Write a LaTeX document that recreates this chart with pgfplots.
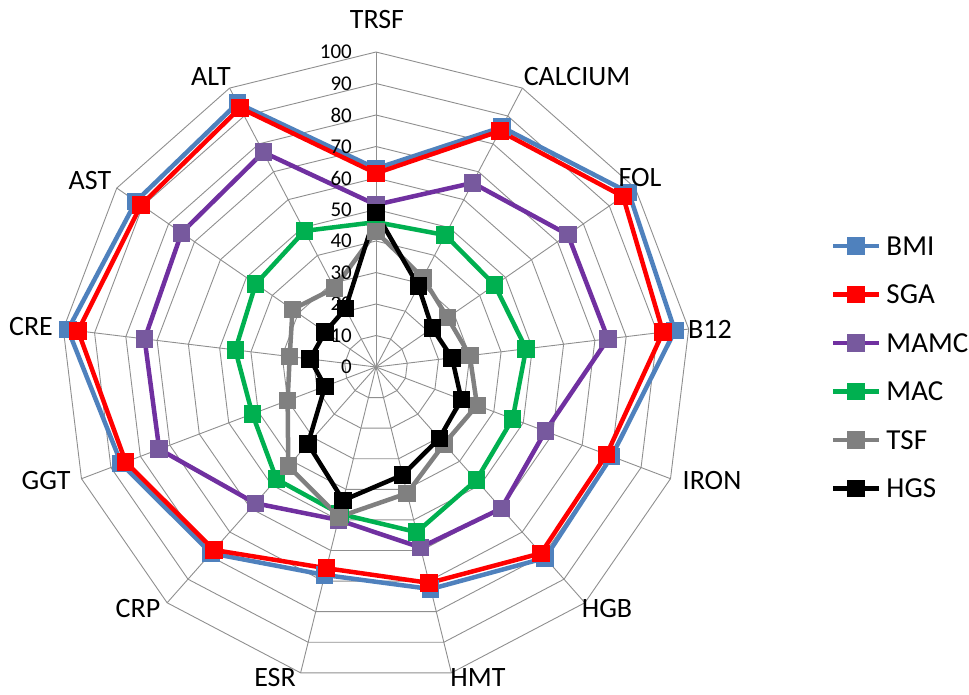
\documentclass[border=0pt]{standalone}
\usepackage{fontspec}
\setmainfont{Carlito}
\usepackage{pgfplots}
\pgfplotsset{compat=1.18}
\usepackage{pgfplotstable}
\usepgfplotslibrary{polar}

\definecolor{bmiblue}{HTML}{4F81BD}
\definecolor{sgared}{HTML}{FF0000}
\definecolor{mamcline}{HTML}{7030A0}
\definecolor{mamcmark}{HTML}{77599E}
\definecolor{macgreen}{HTML}{00B050}
\definecolor{tsfgray}{HTML}{808080}
\definecolor{webgray}{HTML}{8F8F8F}

% one spoke per parameter, clockwise from the top; last row closes the polygon
\pgfplotstableread{
cat      ang        BMI   SGA   MAMC  MAC   TSF   HGS
TRSF     90         63.0  61.5  51.5  46.0  43.0  49.0
CALCIUM  62.3077    86.0  84.6  66.0  47.3  32.0  29.0
FOL      34.6154    97.5  95.3  74.0  45.8  27.6  21.7
B12      6.9231     95.6  91.8  74.2  48.0  30.0  24.3
IRON     -20.7692   80.0  78.3  57.5  46.4  34.3  29.0
HGB      -48.4615   81.0  79.0  60.0  48.0  32.6  30.3
HMT      -76.1538   72.6  70.6  59.0  54.0  41.3  35.3
ESR      -103.8462  68.0  65.8  50.0  48.0  49.0  43.6
CRP      -131.5385  79.0  77.6  57.8  47.6  42.0  32.6
GGT      -159.2308  86.5  85.0  73.6  42.0  30.0  17.3
CRE      -186.9231  98.5  95.3  74.0  45.0  27.6  21.1
AST      -214.6154  92.6  90.6  75.0  46.4  32.2  19.6
ALT      -242.3077  94.6  92.9  77.0  48.8  28.3  20.9
TRSF     -270       63.0  61.5  51.5  46.0  43.0  49.0
}\radar

\newcommand\catfont{\fontsize{28}{32}\selectfont}
\newcommand\tickfont{\fontsize{21}{24}\selectfont}

\begin{document}
\begin{tikzpicture}[x=1pt,y=1pt]
\useasboundingbox (0,0) rectangle (969,-695);
\begin{polaraxis}[
  at={(376pt,-367pt)}, anchor=center,
  scale only axis, width=630pt, height=630pt,
  ymin=0, ymax=100,
  hide axis, clip=false,
  every axis plot/.append style={line width=4.5pt, line join=miter, mark=square*, mark size=6.5pt,
    mark options={solid, line width=0pt}},
  legend image code/.code={\draw[mark repeat=2, mark phase=2, #1]
    plot coordinates {(0pt,0pt) (23pt,0pt) (46pt,0pt)};},
  legend style={draw=none, fill=none, inner sep=0pt, outer sep=0pt,
    at={(1.2222,0.5)}, anchor=west,
    font=\fontsize{29}{32}\selectfont, row sep=30pt,
    nodes={inner sep=0pt, text height=18.5pt, text depth=0pt},
    /tikz/every odd column/.append style={column sep=5pt}},
  legend cell align=left,
]
% spider web: rings every 10 units and one spoke per parameter
\pgfplotsinvokeforeach{10,20,...,100}{
  \draw[webgray, line width=0.9pt]
    (axis cs:90,#1) -- (axis cs:62.3077,#1) -- (axis cs:34.6154,#1) --
    (axis cs:6.9231,#1) -- (axis cs:-20.7692,#1) -- (axis cs:-48.4615,#1) --
    (axis cs:-76.1538,#1) -- (axis cs:-103.8462,#1) -- (axis cs:-131.5385,#1) --
    (axis cs:-159.2308,#1) -- (axis cs:-186.9231,#1) -- (axis cs:-214.6154,#1) --
    (axis cs:-242.3077,#1) -- cycle;
}
\pgfplotsinvokeforeach{90,62.3077,34.6154,6.9231,-20.7692,-48.4615,-76.1538,
    -103.8462,-131.5385,-159.2308,-186.9231,-214.6154,-242.3077}{
  \draw[webgray, line width=0.9pt] (axis cs:0,0) -- (axis cs:#1,100);
}

\addplot[color=bmiblue, mark options={fill=bmiblue}] table[x=ang, y=BMI] {\radar};
\addlegendentry{BMI}
\addplot[color=sgared, mark options={fill=sgared}] table[x=ang, y=SGA] {\radar};
\addlegendentry{SGA}
\addplot[color=mamcline, mark options={fill=mamcmark, draw=mamcmark}] table[x=ang, y=MAMC] {\radar};
\addlegendentry{MAMC}
\addplot[color=macgreen, mark options={fill=macgreen}] table[x=ang, y=MAC] {\radar};
\addlegendentry{MAC}
\addplot[color=tsfgray, mark options={fill=tsfgray}] table[x=ang, y=TSF] {\radar};
\addlegendentry{TSF}
\addplot[color=black, mark options={fill=black}] table[x=ang, y=HGS] {\radar};
\addlegendentry{HGS}

% scale labels along the top spoke
\pgfplotsinvokeforeach{0,10,...,100}{
  \node[font=\tickfont, anchor=east, inner sep=0pt, xshift=-24pt] at (axis cs:90,#1) {#1};
}
\end{polaraxis}

% parameter names around the web
\begin{scope}[every node/.style={font=\catfont, inner sep=0pt, anchor=center}]
\node at (377,-20)  {TRSF};
\node at (577,-77)  {CALCIUM};
\node at (640,-178) {FOL};
\node at (710,-329) {B12};
\node at (712,-481) {IRON};
\node at (607,-609) {HGB};
\node at (478,-678) {HMT};
\node at (275,-678) {ESR};
\node at (138,-609) {CRP};
\node at (46,-481)  {GGT};
\node at (31,-327)  {CRE};
\node at (90,-181)  {AST};
\node at (211,-77)  {ALT};
\end{scope}
\end{tikzpicture}
\end{document}
